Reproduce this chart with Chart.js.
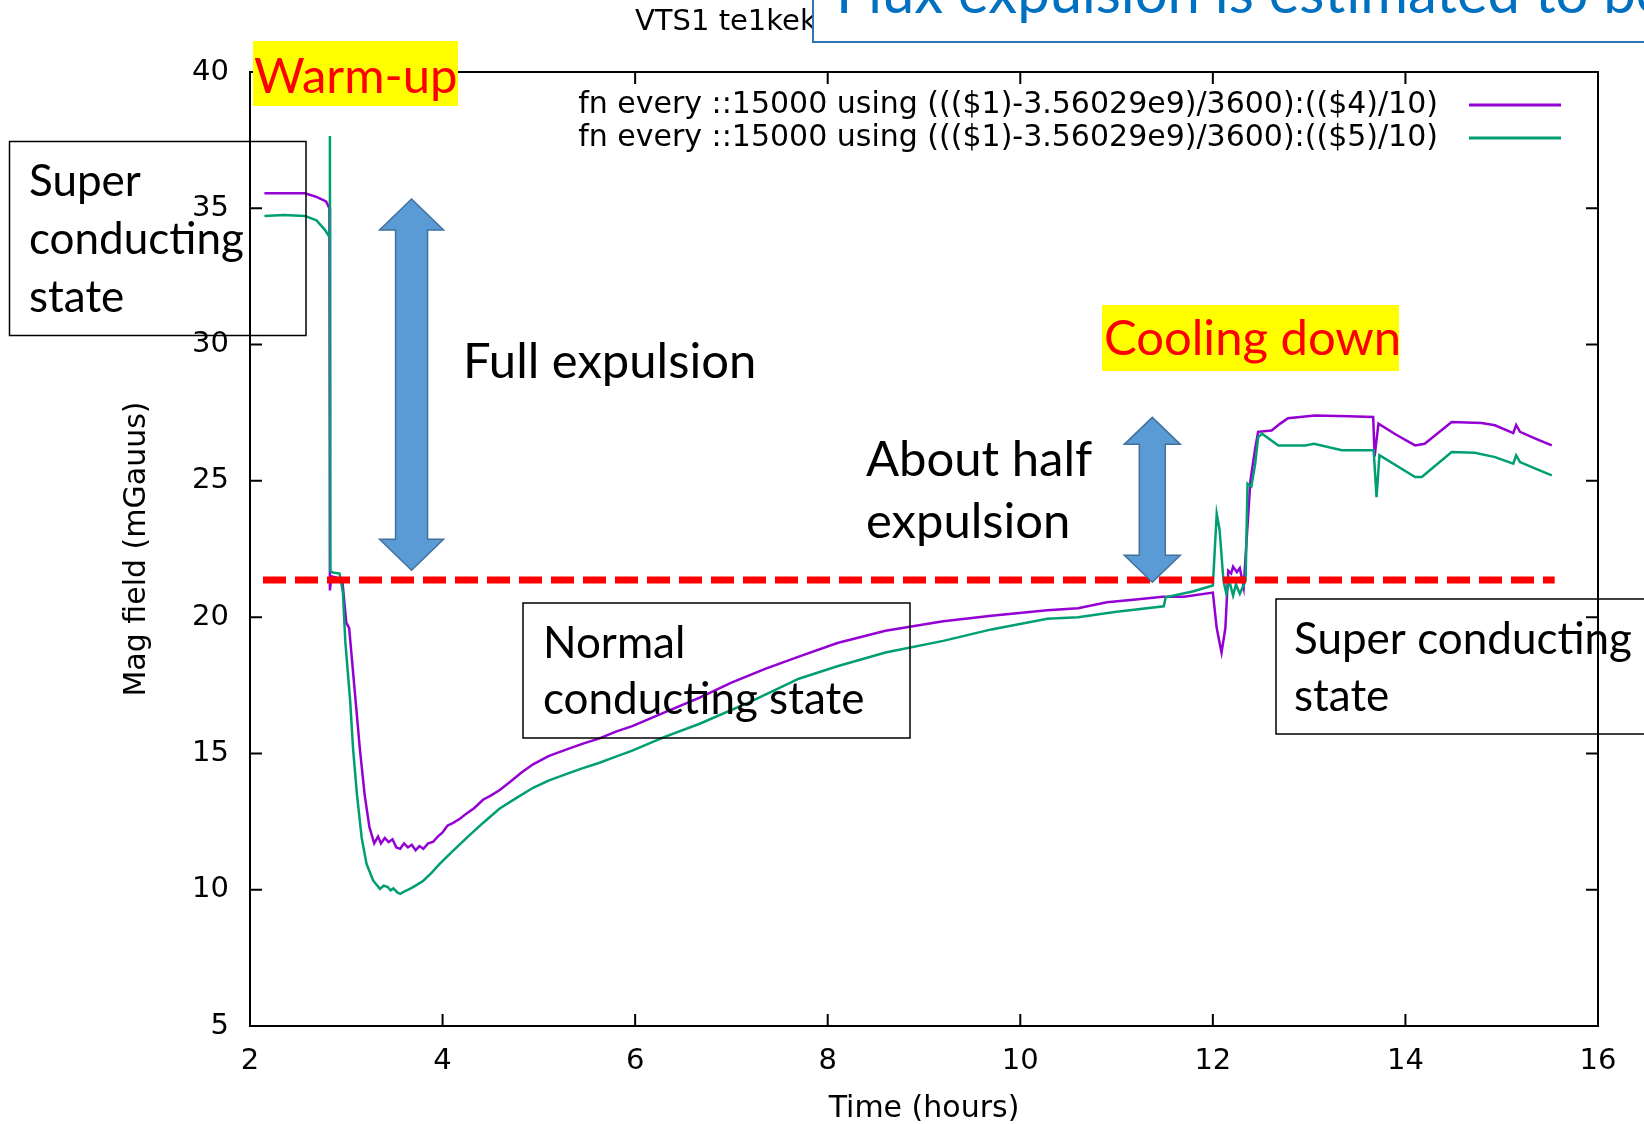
<!DOCTYPE html>
<html>
<head>
<meta charset="utf-8">
<script src="https://cdn.jsdelivr.net/npm/chart.js@4.4.1/dist/chart.umd.min.js"></script>
<style>
  html, body { margin: 0; padding: 0; background: #fff; }
  #wrap { position: relative; width: 1644px; height: 1124px; }
</style>
</head>
<body>
<div id="wrap"><canvas id="fluxChart" width="1644" height="1124"></canvas></div>
<script>
// column 4 of the logger, hours since start vs field (mG)
const hours4 = [2.15, 2.35, 2.57, 2.69, 2.79, 2.825, 2.83, 2.845, 2.90, 2.96, 3.00, 3.03, 3.05, 3.09, 3.14, 3.19, 3.24, 3.29, 3.33, 3.36,
  3.40, 3.44, 3.48, 3.52, 3.56, 3.60, 3.64, 3.68, 3.72, 3.76, 3.80, 3.85, 3.90, 3.95, 4.00, 4.05, 4.11, 4.18, 4.25, 4.33,
  4.42, 4.50, 4.59, 4.70, 4.82, 4.94, 5.10, 5.29, 5.45, 5.63, 5.80, 5.97, 6.30, 6.67, 7.00, 7.35, 7.70, 8.10, 8.60, 9.20,
  9.70, 10.28, 10.60, 10.90, 11.20, 11.48, 11.70, 12.00, 12.04, 12.09, 12.13, 12.16, 12.19, 12.21, 12.25, 12.28, 12.32, 12.35, 12.39, 12.44,
  12.47, 12.61, 12.70, 12.78, 13.06, 13.41, 13.665, 13.68, 13.72, 13.90, 14.10, 14.20, 14.48, 14.79, 14.93, 15.12, 15.15, 15.19, 15.35, 15.52];
const field4 = [35.55, 35.55, 35.55, 35.42, 35.25, 35.0, 20.98, 21.5, 21.45, 21.3, 19.8, 19.6, 18.8, 17.2, 15.2, 13.5, 12.3, 11.7, 11.95, 11.7,
  11.9, 11.75, 11.85, 11.55, 11.5, 11.7, 11.55, 11.65, 11.45, 11.6, 11.5, 11.7, 11.75, 11.95, 12.1, 12.35, 12.45, 12.6, 12.8, 13.0,
  13.3, 13.45, 13.65, 13.95, 14.3, 14.6, 14.9, 15.15, 15.35, 15.55, 15.8, 16.0, 16.5, 17.05, 17.6, 18.1, 18.55, 19.05, 19.5, 19.85,
  20.05, 20.25, 20.33, 20.55, 20.65, 20.75, 20.75, 20.9, 19.6, 18.7, 19.6, 21.7, 21.6, 21.85, 21.65, 21.8, 21.1, 22.8, 25.0, 26.2,
  26.8, 26.85, 27.1, 27.3, 27.4, 27.37, 27.34, 25.9, 27.1, 26.7, 26.3, 26.36, 27.16, 27.12, 27.04, 26.75, 27.05, 26.8, 26.55, 26.3];

// column 5 of the logger
const hours5 = [2.15, 2.35, 2.57, 2.69, 2.78, 2.825, 2.83, 2.835, 2.86, 2.93, 2.965, 2.99, 3.04, 3.07, 3.11, 3.16, 3.21, 3.28, 3.35, 3.39,
  3.43, 3.46, 3.49, 3.53, 3.56, 3.61, 3.66, 3.72, 3.80, 3.88, 3.97, 4.10, 4.25, 4.42, 4.59, 4.76, 4.94, 5.10, 5.29, 5.45,
  5.63, 5.80, 5.97, 6.30, 6.67, 7.20, 7.70, 8.10, 8.60, 9.20, 9.70, 10.28, 10.60, 11.00, 11.49, 11.51, 11.80, 12.00, 12.04, 12.07,
  12.11, 12.14, 12.17, 12.21, 12.24, 12.28, 12.34, 12.36, 12.40, 12.44, 12.47, 12.51, 12.68, 12.96, 13.05, 13.34, 13.67, 13.70, 13.73, 14.10,
  14.17, 14.48, 14.72, 14.93, 15.12, 15.15, 15.19, 15.35, 15.52];
const field5 = [34.72, 34.75, 34.72, 34.56, 34.2, 33.95, 37.65, 21.7, 21.64, 21.6, 20.9, 19.1, 16.94, 15.2, 13.52, 11.9, 10.95, 10.33, 10.03, 10.15,
  10.1, 9.98, 10.05, 9.9, 9.85, 9.95, 10.03, 10.15, 10.33, 10.6, 10.95, 11.4, 11.9, 12.45, 12.97, 13.35, 13.74, 14.0, 14.25, 14.45,
  14.66, 14.88, 15.1, 15.6, 16.09, 16.9, 17.74, 18.2, 18.7, 19.13, 19.55, 19.94, 20.0, 20.2, 20.4, 20.73, 20.95, 21.16, 23.79, 23.2,
  21.34, 20.86, 21.34, 20.79, 21.2, 20.86, 21.34, 24.9, 24.8, 25.63, 26.6, 26.73, 26.3, 26.3, 26.36, 26.12, 26.12, 24.4, 25.94, 25.14,
  25.14, 26.06, 26.03, 25.87, 25.63, 25.94, 25.69, 25.45, 25.2];

// normal-state field level before cool-down
const plateauHours = [2.135, 15.55];
const plateauField = [21.36, 21.36];

const seriesLabels = [
  'fn every ::15000 using ((($1)-3.56029e9)/3600):(($4)/10)',
  'fn every ::15000 using ((($1)-3.56029e9)/3600):(($5)/10)'
];

// double arrows: hour position and field range they span
const arrows = [
  { x: 3.678, top: 35.34, bottom: 21.72, head: 31, headHalf: 32, shaftHalf: 16 },
  { x: 11.371, top: 27.33, bottom: 21.28, head: 27, headHalf: 28, shaftHalf: 13 }
];

const GNU_FONT = 'DejaVu Sans';
const SLIDE_FONT = 'Lato';

const toPoints = (xs, ys) => xs.map((x, i) => ({ x: x, y: ys[i] }));

// gnuplot style border with inward ticks on all four sides, plus the key
const gnuplotFrame = {
  id: 'gnuplotFrame',
  afterDatasetsDraw(chart) {
    const { ctx, chartArea: a, scales: { x, y } } = chart;
    ctx.save();
    ctx.strokeStyle = '#000';
    ctx.lineWidth = 2;
    ctx.strokeRect(a.left, a.top, a.right - a.left, a.bottom - a.top);
    ctx.beginPath();
    x.ticks.forEach(t => {
      const px = x.getPixelForValue(t.value);
      ctx.moveTo(px, a.bottom); ctx.lineTo(px, a.bottom - 12);
      ctx.moveTo(px, a.top); ctx.lineTo(px, a.top + 12);
    });
    y.ticks.forEach(t => {
      const py = y.getPixelForValue(t.value);
      ctx.moveTo(a.left, py); ctx.lineTo(a.left + 12, py);
      ctx.moveTo(a.right, py); ctx.lineTo(a.right - 12, py);
    });
    ctx.stroke();

    // key, top right
    ctx.font = '30px "' + GNU_FONT + '"';
    ctx.textAlign = 'right';
    ctx.textBaseline = 'middle';
    ctx.fillStyle = '#000';
    [0, 1].forEach(i => {
      const ds = chart.data.datasets[i];
      const ky = 105 + i * 33;
      ctx.fillText(ds.label, 1438, ky);
      ctx.strokeStyle = ds.borderColor;
      ctx.lineWidth = 3;
      ctx.beginPath();
      ctx.moveTo(1469, ky); ctx.lineTo(1561, ky);
      ctx.stroke();
    });
    ctx.restore();
  }
};

function doubleArrow(ctx, cx, yTop, yBot, a) {
  ctx.beginPath();
  ctx.moveTo(cx, yTop);
  ctx.lineTo(cx + a.headHalf, yTop + a.head);
  ctx.lineTo(cx + a.shaftHalf, yTop + a.head);
  ctx.lineTo(cx + a.shaftHalf, yBot - a.head);
  ctx.lineTo(cx + a.headHalf, yBot - a.head);
  ctx.lineTo(cx, yBot);
  ctx.lineTo(cx - a.headHalf, yBot - a.head);
  ctx.lineTo(cx - a.shaftHalf, yBot - a.head);
  ctx.lineTo(cx - a.shaftHalf, yTop + a.head);
  ctx.lineTo(cx - a.headHalf, yTop + a.head);
  ctx.closePath();
  ctx.fillStyle = '#5b9bd5';
  ctx.fill();
  ctx.strokeStyle = '#41719c';
  ctx.lineWidth = 1.5;
  ctx.stroke();
}

function lines(ctx, texts, x, y0, step) {
  texts.forEach((t, i) => ctx.fillText(t, x, y0 + i * step));
}

// slide annotations laid over the plot
const slideOverlay = {
  id: 'slideOverlay',
  afterDraw(chart) {
    const { ctx, scales: { x, y } } = chart;
    ctx.save();
    ctx.textAlign = 'left';
    ctx.textBaseline = 'alphabetic';

    // gnuplot title, partly hidden by the slide heading box
    ctx.fillStyle = '#000';
    ctx.font = '29px "' + GNU_FONT + '"';
    ctx.fillText('VTS1 te1kek', 635, 30);

    ctx.fillStyle = '#fff';
    ctx.fillRect(813, -10, 900, 52);
    ctx.strokeStyle = '#2e75b6';
    ctx.lineWidth = 2;
    ctx.strokeRect(813, -10, 900, 52);
    ctx.fillStyle = '#0070c0';
    ctx.font = '58px "' + SLIDE_FONT + '"';
    ctx.fillText('Flux expulsion is estimated to be', 836, 13);

    // highlighted phase labels
    ctx.fillStyle = '#ffff00';
    ctx.fillRect(253, 41, 205, 65);
    ctx.fillRect(1102, 305, 297, 66);
    ctx.fillStyle = '#ff0000';
    ctx.font = '49px "' + SLIDE_FONT + '"';
    ctx.fillText('Warm-up', 254, 93);
    ctx.fillText('Cooling down', 1104, 355);

    // outlined state boxes
    ctx.strokeStyle = '#000';
    ctx.lineWidth = 1.5;
    ctx.strokeRect(9.5, 141.5, 296.5, 194);
    ctx.strokeRect(523, 603, 387, 135);
    ctx.strokeRect(1276, 599, 420, 135);

    ctx.fillStyle = '#000';
    ctx.font = '44px "' + SLIDE_FONT + '"';
    lines(ctx, ['Super', 'conducting', 'state'], 29, 196, 58);
    lines(ctx, ['Normal', 'conducting state'], 543, 658, 56);
    lines(ctx, ['Super conducting', 'state'], 1294, 654, 57);

    ctx.font = '49px "' + SLIDE_FONT + '"';
    ctx.fillText('Full expulsion', 463, 378);
    lines(ctx, ['About half', 'expulsion'], 866, 476, 62);

    arrows.forEach(a => {
      doubleArrow(ctx, x.getPixelForValue(a.x), y.getPixelForValue(a.top), y.getPixelForValue(a.bottom), a);
    });
    ctx.restore();
  }
};

const tickFont = { family: GNU_FONT, size: 29 };

new Chart(document.getElementById('fluxChart'), {
  type: 'line',
  data: {
    datasets: [
      { label: seriesLabels[0], data: toPoints(hours4, field4), borderColor: '#9400d3', borderWidth: 2.5,
        pointRadius: 0, tension: 0, fill: false, order: 2 },
      { label: seriesLabels[1], data: toPoints(hours5, field5), borderColor: '#009e73', borderWidth: 2.5,
        pointRadius: 0, tension: 0, fill: false, order: 1 },
      { label: 'plateau', data: toPoints(plateauHours, plateauField), borderColor: '#ff0000', borderWidth: 7,
        borderDash: [23, 9], pointRadius: 0, fill: false, order: 0 }
    ]
  },
  options: {
    responsive: false,
    animation: false,
    layout: { padding: { top: 72, right: 46, bottom: 0, left: 0 } },
    plugins: { legend: { display: false }, tooltip: { enabled: false } },
    scales: {
      x: {
        type: 'linear', min: 2, max: 16,
        ticks: { stepSize: 2, color: '#000', font: tickFont, padding: 18, maxRotation: 0 },
        grid: { display: false, drawTicks: false },
        border: { display: false },
        title: { display: true, text: 'Time (hours)', color: '#000',
          font: { family: GNU_FONT, size: 30, lineHeight: 1 }, padding: { top: 0, bottom: 0 } },
        afterFit: s => { s.height = 98; }
      },
      y: {
        type: 'linear', min: 5, max: 40,
        ticks: { stepSize: 5, color: '#000', font: tickFont, padding: 21 },
        grid: { display: false, drawTicks: false },
        border: { display: false },
        title: { display: true, text: 'Mag field (mGauus)', color: '#000',
          font: { family: GNU_FONT, size: 30, lineHeight: 1 }, padding: { top: 122, bottom: 0 } },
        afterFit: s => { s.width = 250; }
      }
    }
  },
  plugins: [gnuplotFrame, slideOverlay]
});
</script>
</body>
</html>
